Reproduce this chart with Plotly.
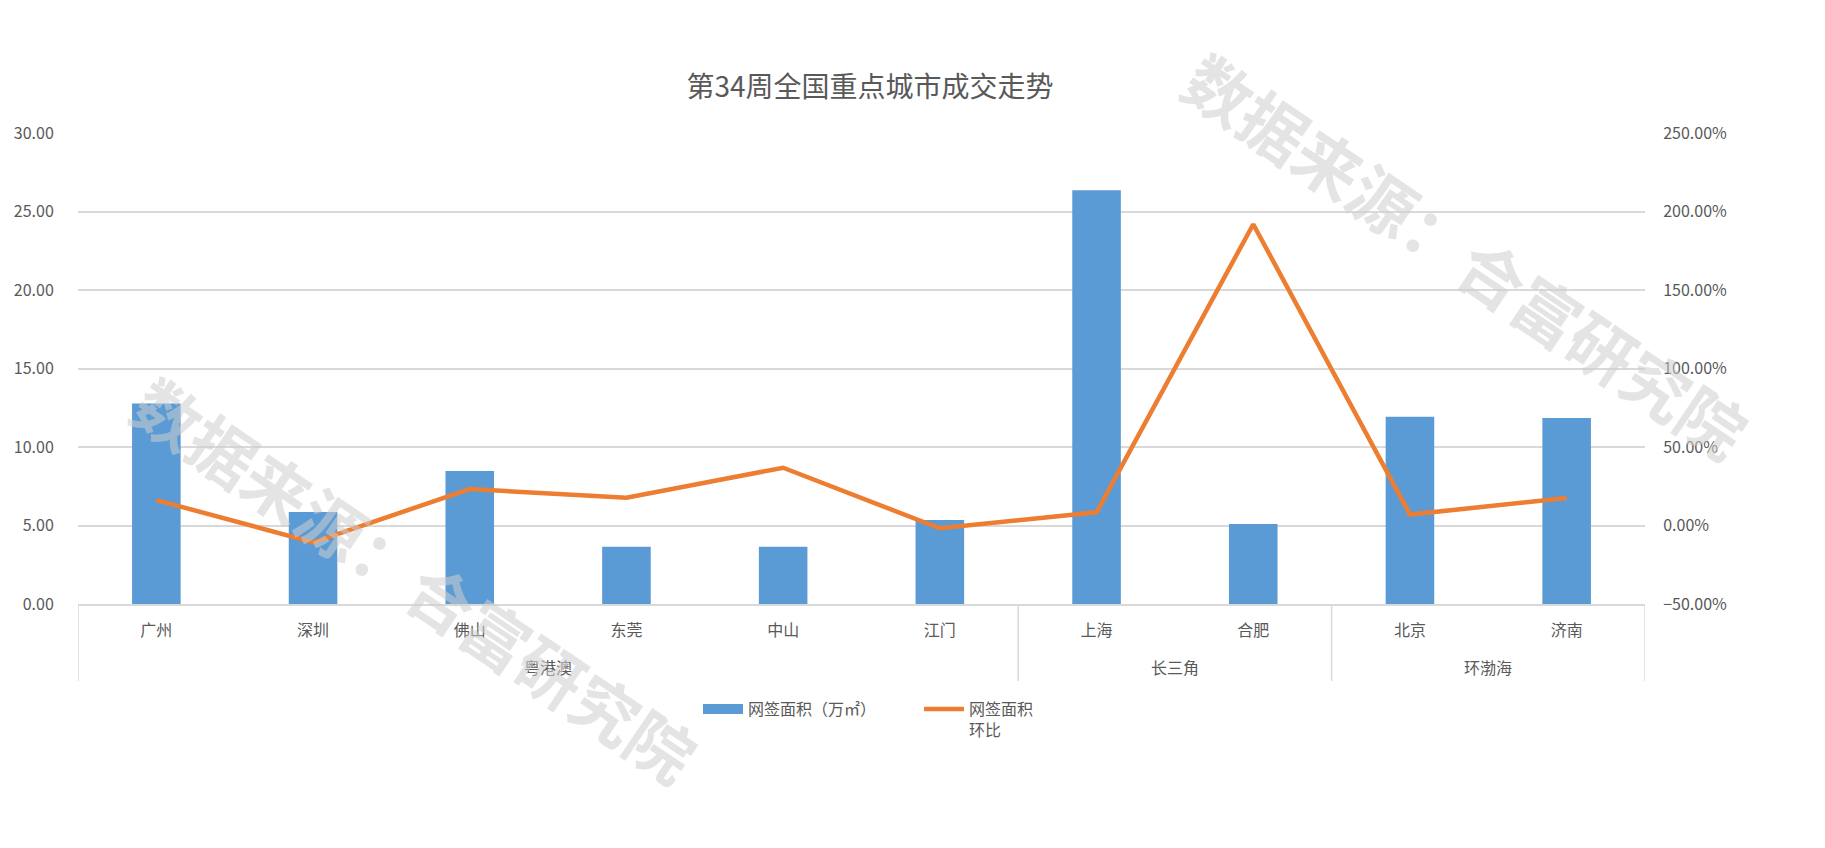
import plotly.graph_objects as go

cities = ["广州", "深圳", "佛山", "东莞", "中山", "江门", "上海", "合肥", "北京", "济南"]
groups = ["粤港澳", "长三角", "环渤海"]
group_sizes = [6, 2, 2]
area = [12.77, 5.86, 8.47, 3.65, 3.65, 5.35, 26.35, 5.10, 11.92, 11.85]
mom = [0.162, -0.107, 0.232, 0.177, 0.368, -0.018, 0.084, 1.919, 0.070, 0.175]
left_ticks = [0, 5, 10, 15, 20, 25, 30]
right_ticks = [-0.5, 0, 0.5, 1.0, 1.5, 2.0, 2.5]

FONT = "Noto Sans CJK SC"
GREY = "#595959"
GRID = "#d9d9d9"
BLUE = "#5B9BD5"
ORANGE = "#ED7D31"

x_idx = list(range(len(cities)))

fig = go.Figure()
fig.add_trace(go.Bar(
    x=x_idx, y=area, name="网签面积（万㎡）", legendgroup="area", showlegend=False,
    marker=dict(color=BLUE, line=dict(width=0)), width=0.31, yaxis="y"))
# legend entry for the bars drawn as a wide block (Excel style)
fig.add_trace(go.Scatter(
    x=[None], y=[None], name="网签面积（万㎡）", legendgroup="area", mode="lines",
    line=dict(color=BLUE, width=10), yaxis="y", hoverinfo="skip"))
fig.add_trace(go.Scatter(
    x=x_idx, y=mom, name="网签面积<br>环比", mode="lines",
    line=dict(color=ORANGE, width=4.5), yaxis="y2"))

# plot area geometry
L, R, T, B = 78, 1645, 133, 604
W, H = 1825, 848
ph = B - T

shapes = []
bounds = [-0.5]
acc = -0.5
for s in group_sizes:
    acc += s
    bounds.append(acc)
for bx in bounds:
    shapes.append(dict(type="line", xref="x", yref="paper", x0=bx, x1=bx,
                       y0=0, y1=-(681 - B) / ph, line=dict(color=GRID, width=1.5)))

annotations = []
start = 0
for g, s in zip(groups, group_sizes):
    cx = start + (s - 1) / 2
    annotations.append(dict(text=g, xref="x", yref="paper", x=cx, y=-(667 - B) / ph,
                            showarrow=False, yanchor="middle",
                            font=dict(family=FONT, size=16, color=GREY)))
    start += s

# watermarks
for cx, cy in [(416, 578), (1467, 254)]:
    annotations.append(dict(text="<b>数据来源：合富研究院</b>", xref="paper", yref="paper",
                            x=(cx - L) / (R - L), y=(B - cy) / ph, showarrow=False,
                            textangle=34, xanchor="center", yanchor="middle",
                            font=dict(family=FONT, size=66, color="rgba(205,205,205,0.55)")))

fig.update_layout(
    width=W, height=H,
    margin=dict(l=L, r=W - R, t=T, b=H - B, pad=0),
    paper_bgcolor="white", plot_bgcolor="white",
    title=dict(text="第34周全国重点城市成交走势", x=870 / W, xref="container", xanchor="center",
               y=1 - 87 / H, yref="container", yanchor="middle",
               font=dict(family=FONT, size=28, color=GREY)),
    font=dict(family=FONT, color=GREY, size=16),
    xaxis=dict(range=[-0.5, 9.5], tickmode="array", tickvals=x_idx, ticktext=cities,
               showgrid=False, zeroline=False, showline=True, linecolor=GRID, linewidth=1.5,
               ticks="outside", ticklen=11, tickcolor="rgba(0,0,0,0)",
               tickfont=dict(family=FONT, size=16, color=GREY)),
    yaxis=dict(range=[0, 30], tickmode="array", tickvals=left_ticks, tickformat=".2f",
               showgrid=True, gridcolor=GRID, gridwidth=1.5, zeroline=False, showline=False,
               ticks="outside", ticklen=20, tickcolor="rgba(0,0,0,0)",
               tickfont=dict(family=FONT, size=16, color=GREY)),
    yaxis2=dict(range=[-0.5, 2.5], overlaying="y", side="right", tickmode="array",
                tickvals=right_ticks, tickformat=".2%", showgrid=False, zeroline=False,
                showline=False, ticks="outside", ticklen=14, tickcolor="rgba(0,0,0,0)",
                tickfont=dict(family=FONT, size=16, color=GREY)),
    legend=dict(orientation="h", x=(698 - L) / (R - L), xanchor="left",
                y=-(692 - B) / ph, yanchor="top", valign="top",
                font=dict(family=FONT, size=16, color=GREY), itemwidth=40,
                entrywidth=166, entrywidthmode="pixels", bgcolor="rgba(0,0,0,0)"),
    shapes=shapes, annotations=annotations,
)

fig.write_html("out.html")
